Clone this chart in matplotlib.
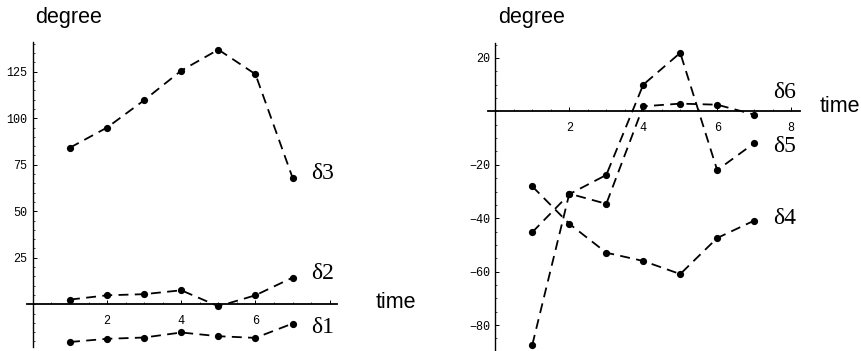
import matplotlib
matplotlib.use("Agg")
import matplotlib.pyplot as plt
from matplotlib.ticker import MultipleLocator

time = [1, 2, 3, 4, 5, 6, 7]
delta1 = [-20.3, -18.6, -17.9, -15.2, -17.2, -18.1, -10.4]
delta2 = [2.5, 4.8, 5.4, 7.5, -1.1, 4.8, 14.3]
delta3 = [84.2, 95.0, 109.7, 125.6, 136.9, 123.7, 68.1]
delta4 = [-28.1, -42.1, -52.9, -56.0, -60.9, -47.4, -40.9]
delta5 = [-45.2, -31.0, -23.8, 10.0, 21.9, -22.0, -11.9]
delta6 = [-87.3, -30.8, -34.6, 1.9, 2.9, 2.5, -1.2]

left_series = [("δ1", delta1, -12.4), ("δ2", delta2, 16.7), ("δ3", delta3, 70.4)]
right_series = [("δ4", delta4, -40.0), ("δ5", delta5, -13.3), ("δ6", delta6, 6.9)]

left_yticks = [25, 50, 75, 100, 125]
right_yticks = [-80, -60, -40, -20, 20]

W, H = 861, 351
fig = plt.figure(figsize=(W / 100, H / 100), dpi=100)

def px_axes(x0, x1, ytop, ybot):
    return fig.add_axes([x0 / W, (H - ybot) / H, (x1 - x0) / W, (ybot - ytop) / H])

ax1 = px_axes(27, 337, 42, 347)
ax2 = px_axes(488, 800, 43, 351)

mono = "Liberation Mono"
sans = "Liberation Sans"
serif = "Liberation Serif"

def style(ax, xlim, ylim, xticks, xlabels, yticks, yminor):
    ax.set_xlim(*xlim)
    ax.set_ylim(*ylim)
    for s in ("top", "right"):
        ax.spines[s].set_visible(False)
    ax.spines["left"].set_position(("data", 0))
    ax.spines["bottom"].set_position(("data", 0))
    ax.spines["left"].set_linewidth(1.0)
    ax.spines["bottom"].set_linewidth(1.3)
    ax.set_xticks(xticks)
    ax.set_xticklabels(xlabels)
    ax.set_yticks(yticks)
    ax.xaxis.set_minor_locator(MultipleLocator(0.5))
    ax.yaxis.set_minor_locator(MultipleLocator(yminor))
    ax.tick_params(axis="both", which="major", direction="in", length=3, width=0.7,
                   labelsize=8.5, pad=4)
    ax.tick_params(axis="x", which="major", pad=8)
    ax.tick_params(axis="both", which="minor", direction="in", length=1.5, width=0.5)
    for lab in ax.get_xticklabels() + ax.get_yticklabels():
        lab.set_fontfamily(mono)
    ax.patch.set_alpha(0)

def draw(ax, series):
    for name, vals, ly in series:
        ax.plot(time, vals, color="black", linestyle=(0, (5.5, 3.5)), linewidth=1.3,
                marker="o", markersize=5.2, markerfacecolor="black", markeredgewidth=0)
        ax.text(7.5, ly, name, fontfamily=serif, fontsize=17, ha="left", va="center")

style(ax1, (-0.16, 8.2), (-23, 141), [2, 4, 6, 8], ["2", "4", "6", ""], left_yticks, 5)
style(ax2, (-0.2, 8.24), (-89.7, 25.6), [2, 4, 6, 8], ["2", "4", "6", "8"], right_yticks, 5)
draw(ax1, left_series)
draw(ax2, right_series)

fig.text(35 / W, 1 - 17 / H, "degree", fontfamily=sans, fontsize=15.5, ha="left", va="center")
fig.text(498 / W, 1 - 17 / H, "degree", fontfamily=sans, fontsize=15.5, ha="left", va="center")
fig.text(376 / W, 1 - 302 / H, "time", fontfamily=sans, fontsize=15.5, ha="left", va="center")
fig.text(820 / W, 1 - 107 / H, "time", fontfamily=sans, fontsize=15.5, ha="left", va="center")

fig.savefig("out.png", dpi=100)
